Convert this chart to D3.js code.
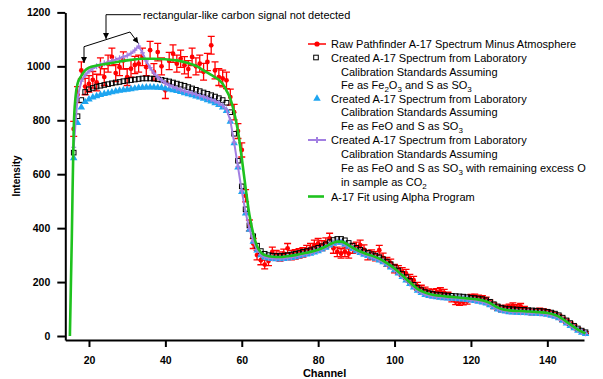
<!DOCTYPE html>
<html>
<head>
<meta charset="utf-8">
<script src="https://cdn.jsdelivr.net/npm/d3@7"></script>
<style>
  body { margin: 0; background: #fff; }
  svg { display: block; font-family: Arial, "Liberation Sans", sans-serif; }
</style>
</head>
<body>
<svg id="chart" width="603" height="379"></svg>
<script>
// channels 16..150 for the spectra
const channels = d3.range(16, 151);

const rawVals = [
  768, 895, 985, 925, 935, 950, 940, 1000, 960, 1010,
  1035, 975, 997, 1022, 960, 991, 1005, 1010, 1035, 997,
  1060, 979, 1053, 1000, 911, 1020, 1047, 1010, 1028, 1004,
  990, 1035, 1000, 1010, 980, 1016, 1078, 985, 960, 955,
  948, 886, 830, 760, 690, 520, 410, 343, 300, 281,
  265, 278, 312, 300, 295, 305, 325, 300, 303, 306,
  310, 318, 325, 337, 343, 335, 345, 362, 325, 312,
  306, 312, 306, 325, 330, 337, 320, 300, 302, 296,
  318, 290, 275, 269, 250, 245, 238, 232, 214, 207,
  185, 175, 168, 162, 160, 163, 166, 160, 150, 138,
  128, 125, 127, 130, 142, 143, 140, 138, 133, 122,
  112, 105, 100, 104, 108, 112, 106, 110, 100, 92,
  88, 90, 94, 91, 88, 83, 78, 72, 62, 55,
  45, 35, 25, 18, 12
];

const fe2o3Vals = [
  680, 815, 875, 905, 915, 920, 925, 928, 931, 934,
  937, 940, 942, 945, 947, 949, 951, 953, 955, 955,
  955, 954, 952, 950, 947, 944, 940, 936, 932, 928,
  923, 918, 913, 908, 903, 898, 893, 888, 882, 875,
  865, 830, 750, 650, 555, 470, 410, 370, 335, 315,
  305, 300, 298, 297, 297, 298, 300, 302, 305, 308,
  312, 315, 318, 322, 327, 333, 340, 348, 356, 360,
  360, 355, 345, 335, 327, 320, 314, 308, 303, 298,
  292, 285, 276, 266, 255, 243, 230, 218, 204, 190,
  178, 170, 163, 159, 156, 154, 152, 151, 150, 149,
  148, 147, 146, 144, 142, 141, 139, 137, 133, 127,
  118, 110, 105, 102, 100, 99, 98, 97, 97, 96,
  95, 94, 93, 92, 90, 87, 83, 77, 68, 58,
  48, 38, 28, 20, 14
];

const feoVals = [
  660, 790, 848, 868, 878, 885, 890, 894, 898, 901,
  904, 907, 910, 912, 914, 916, 918, 920, 921, 922,
  922, 922, 921, 920, 918, 915, 912, 909, 905, 901,
  897, 893, 889, 885, 880, 875, 870, 864, 857, 848,
  835, 795, 715, 625, 535, 455, 395, 350, 318, 300,
  292, 288, 286, 285, 285, 286, 288, 290, 293, 296,
  300, 303, 306, 310, 315, 321, 328, 336, 343, 347,
  346, 340, 332, 323, 315, 308, 302, 297, 292, 287,
  281, 274, 265, 255, 244, 232, 219, 206, 193, 180,
  168, 160, 153, 149, 146, 144, 142, 141, 140, 139,
  138, 137, 136, 134, 132, 130, 128, 125, 121, 115,
  107, 99, 94, 91, 89, 88, 87, 86, 86, 85,
  84, 83, 82, 81, 79, 76, 72, 66, 57, 47,
  38, 29, 20, 13, 8
];

const co2Vals = [
  700, 885, 945, 968, 982, 992, 1000, 1006, 1011, 1015,
  1020, 1025, 1030, 1035, 1040, 1048, 1060, 1075, 1050, 1020,
  995, 975, 960, 948, 938, 930, 924, 918, 913, 908,
  904, 900, 896, 891, 887, 882, 877, 871, 864, 855,
  840, 800, 718, 628, 538, 458, 398, 352, 320, 302,
  294, 290, 288, 287, 287, 288, 290, 292, 295, 298,
  302, 305, 308, 312, 317, 323, 330, 338, 345, 349,
  348, 342, 334, 325, 317, 310, 304, 299, 294, 289,
  283, 276, 267, 257, 246, 234, 221, 208, 195, 182,
  170, 162, 155, 151, 148, 146, 144, 143, 142, 141,
  140, 139, 138, 136, 134, 132, 130, 127, 123, 117,
  109, 101, 96, 93, 91, 90, 89, 88, 88, 87,
  86, 85, 84, 83, 81, 78, 74, 68, 59, 49,
  40, 31, 22, 15, 10
];

// Alpha program fit
const fitChannels = [15, 15.5, 16, 16.5, 17, 18, 19, 20, 22, 25, 28, 31, 34, 37, 40, 43, 46, 48, 50, 52,
  54, 55, 56, 57, 58, 59, 60, 61, 62, 63, 64, 65, 66, 67, 68, 70, 72, 74, 76, 78,
  80, 82, 84, 85, 86, 87, 88, 90, 92, 94, 96, 98, 100, 102, 104, 106, 108, 110, 112, 114,
  116, 118, 120, 122, 124, 125, 126, 127, 128, 130, 132, 134, 136, 138, 140, 142, 143, 144, 146, 148, 150];
const fitVals = [0, 360, 770, 890, 935, 965, 985, 995, 1003, 1010, 1018, 1024, 1028, 1028, 1026, 1022, 1012, 1002, 985, 968,
  950, 935, 910, 880, 830, 760, 660, 550, 450, 380, 333, 310, 300, 296, 294, 293, 296, 300, 306, 312,
  320, 332, 346, 350, 350, 345, 336, 320, 308, 298, 287, 270, 250, 225, 199, 175, 161, 153, 149, 146,
  144, 141, 138, 135, 128, 122, 114, 106, 100, 95, 93, 92, 90, 88, 85, 78, 72, 63, 43, 24, 10];

const xTicks = [20, 40, 60, 80, 100, 120, 140];
const yTicks = [0, 200, 400, 600, 800, 1000, 1200];

const legendRows = [
  { key: 'raw', text: 'Raw Pathfinder A-17 Spectrum Minus Atmosphere' },
  { key: 'fe2o3', text: 'Created A-17 Spectrum from Laboratory' },
  { key: null, text: 'Calibration Standards Assuming' },
  { key: null, text: 'Fe as Fe_2O_3 and S as SO_3' },
  { key: 'feo', text: 'Created A-17 Spectrum from Laboratory' },
  { key: null, text: 'Calibration Standards Assuming' },
  { key: null, text: 'Fe as FeO and S as SO_3' },
  { key: 'co2', text: 'Created A-17 Spectrum from Laboratory' },
  { key: null, text: 'Calibration Standards Assuming' },
  { key: null, text: 'Fe as FeO and S as SO_3 with remaining excess O' },
  { key: null, text: 'in sample as CO_2' },
  { key: 'fit', text: 'A-17 Fit using Alpha Program' }
];
const legendY = [44, 57.5, 71.5, 84.5, 98.5, 112, 125.5, 140, 154, 167.5, 181.5, 196.5];

const colors = { raw: '#ff0000', fe2o3: '#000000', feo: '#1ea5f0', co2: '#a27fe2', fit: '#1ec21e' };

const svg = d3.select('#chart');

const x = d3.scaleLinear().domain([13.8, 149.6]).range([65.3, 584]);
const y = d3.scaleLinear().domain([-14.8, 1200]).range([340, 12.4]);

// axes
const xAxis = svg.append('g')
  .attr('transform', 'translate(0,340)')
  .call(d3.axisBottom(x).tickValues(xTicks).tickSize(7).tickSizeOuter(0).tickPadding(10));
const yAxis = svg.append('g')
  .attr('transform', 'translate(65.3,0)')
  .call(d3.axisLeft(y).tickValues(yTicks).tickFormat(d3.format('d'))
    .tickSize(8).tickSizeOuter(0).tickPadding(7));

[xAxis, yAxis].forEach(g => {
  g.select('.domain').attr('stroke', '#000').attr('stroke-width', 2);
  g.selectAll('.tick line').attr('stroke', '#000').attr('stroke-width', 2);
  g.selectAll('.tick text')
    .attr('fill', '#000')
    .attr('font-size', 10.5)
    .attr('font-weight', 'bold')
    .attr('font-family', 'Arial, "Liberation Sans", sans-serif');
});

svg.append('text')
  .attr('x', 324.6).attr('y', 376.5)
  .attr('text-anchor', 'middle')
  .attr('font-size', 11).attr('font-weight', 'bold')
  .text('Channel');
svg.append('text')
  .attr('transform', 'translate(20,176) rotate(-90)')
  .attr('text-anchor', 'middle')
  .attr('font-size', 10).attr('font-weight', 'bold')
  .text('Intensity');

const plot = svg.append('g');

// raw data with error bars (counting error)
const raw = channels.map((c, i) => ({ c: c, v: rawVals[i], e: Math.sqrt(rawVals[i]) }));
const rawG = plot.append('g').attr('stroke', colors.raw).attr('stroke-width', 1.3);
rawG.selectAll('path.err').data(raw).join('path')
  .attr('class', 'err')
  .attr('fill', 'none')
  .attr('d', d => {
    const cx = x(d.c), y0 = y(d.v - d.e), y1 = y(d.v + d.e);
    return `M${cx},${y0}V${y1}M${cx - 3.5},${y1}H${cx + 3.5}M${cx - 3.5},${y0}H${cx + 3.5}`;
  });
rawG.selectAll('circle').data(raw).join('circle')
  .attr('cx', d => x(d.c)).attr('cy', d => y(d.v))
  .attr('r', 2.4).attr('fill', colors.raw).attr('stroke', 'none');

// Fe2O3 open squares
plot.append('g').selectAll('rect').data(channels).join('rect')
  .attr('x', (c, i) => x(c) - 2.3).attr('y', (c, i) => y(fe2o3Vals[i]) - 2.3)
  .attr('width', 4.6).attr('height', 4.6)
  .attr('fill', 'none').attr('stroke', colors.fe2o3).attr('stroke-width', 1);

// FeO triangles
const tri = d3.symbol(d3.symbolTriangle, 24);
plot.append('g').selectAll('path').data(channels).join('path')
  .attr('transform', (c, i) => `translate(${x(c)},${y(feoVals[i])})`)
  .attr('d', tri).attr('fill', colors.feo);

// FeO + CO2 line with plus marks
const line = d3.line().x(d => x(d[0])).y(d => y(d[1]));
plot.append('path')
  .datum(channels.map((c, i) => [c, co2Vals[i]]))
  .attr('d', line).attr('fill', 'none')
  .attr('stroke', colors.co2).attr('stroke-width', 2);
plot.append('g').attr('stroke', colors.co2).attr('stroke-width', 1.2)
  .selectAll('path').data(channels).join('path')
  .attr('d', (c, i) => {
    const px = x(c), py = y(co2Vals[i]);
    return `M${px},${py - 3}V${py + 3}M${px - 2.5},${py}H${px + 2.5}`;
  });

// Alpha fit
plot.append('path')
  .datum(fitChannels.map((c, i) => [c, fitVals[i]]))
  .attr('d', line.curve(d3.curveMonotoneX)).attr('fill', 'none')
  .attr('stroke', colors.fit).attr('stroke-width', 2.6);

// legend
const lg = svg.append('g').attr('font-size', 11).attr('fill', '#000');
legendRows.forEach((row, i) => {
  const yy = legendY[i];
  const t = lg.append('text')
    .attr('x', row.key ? 331 : 341)
    .attr('y', yy + 4);
  row.text.split(/_(\d)/).forEach((part, j) => {
    if (j % 2 === 1) {
      t.append('tspan').attr('dy', 3).attr('font-size', 8).text(part);
    } else if (part) {
      t.append('tspan').attr('dy', j > 0 ? -3 : 0).text(part);
    }
  });

  if (row.key === 'raw') {
    lg.append('line').attr('x1', 308).attr('x2', 326).attr('y1', yy).attr('y2', yy)
      .attr('stroke', colors.raw).attr('stroke-width', 1.5);
    lg.append('circle').attr('cx', 317).attr('cy', yy).attr('r', 2.6).attr('fill', colors.raw);
  } else if (row.key === 'fe2o3') {
    lg.append('rect').attr('x', 313.7).attr('y', yy - 2.3).attr('width', 4.6).attr('height', 4.6)
      .attr('fill', 'none').attr('stroke', '#000');
  } else if (row.key === 'feo') {
    lg.append('path').attr('transform', `translate(317,${yy})`).attr('d', tri).attr('fill', colors.feo);
  } else if (row.key === 'co2') {
    lg.append('path')
      .attr('d', `M308,${yy}H326M317,${yy - 3}V${yy + 3}`)
      .attr('stroke', colors.co2).attr('stroke-width', 2).attr('fill', 'none');
  } else if (row.key === 'fit') {
    lg.append('line').attr('x1', 308).attr('x2', 324).attr('y1', yy).attr('y2', yy)
      .attr('stroke', colors.fit).attr('stroke-width', 2.6);
  }
});

// annotation
const defs = svg.append('defs');
defs.append('marker')
  .attr('id', 'arrow')
  .attr('viewBox', '0 0 10 10')
  .attr('refX', 10).attr('refY', 5)
  .attr('markerWidth', 9).attr('markerHeight', 6)
  .attr('markerUnits', 'userSpaceOnUse')
  .attr('orient', 'auto')
  .append('path').attr('d', 'M0,0L10,5L0,10Z').attr('fill', '#000');

const ann = svg.append('g').attr('fill', 'none').attr('stroke', '#000').attr('stroke-width', 1);
ann.append('path').attr('d', 'M141,14.7H106V39').attr('marker-end', 'url(#arrow)');
ann.append('path').attr('d', 'M84,46.7L130,32L138.3,43.3').attr('marker-end', 'url(#arrow)');
ann.append('path').attr('d', 'M84,46.7V63').attr('marker-end', 'url(#arrow)');
svg.append('text')
  .attr('x', 143).attr('y', 18.7)
  .attr('font-size', 11)
  .text('rectangular-like carbon signal not detected');
</script>
</body>
</html>
